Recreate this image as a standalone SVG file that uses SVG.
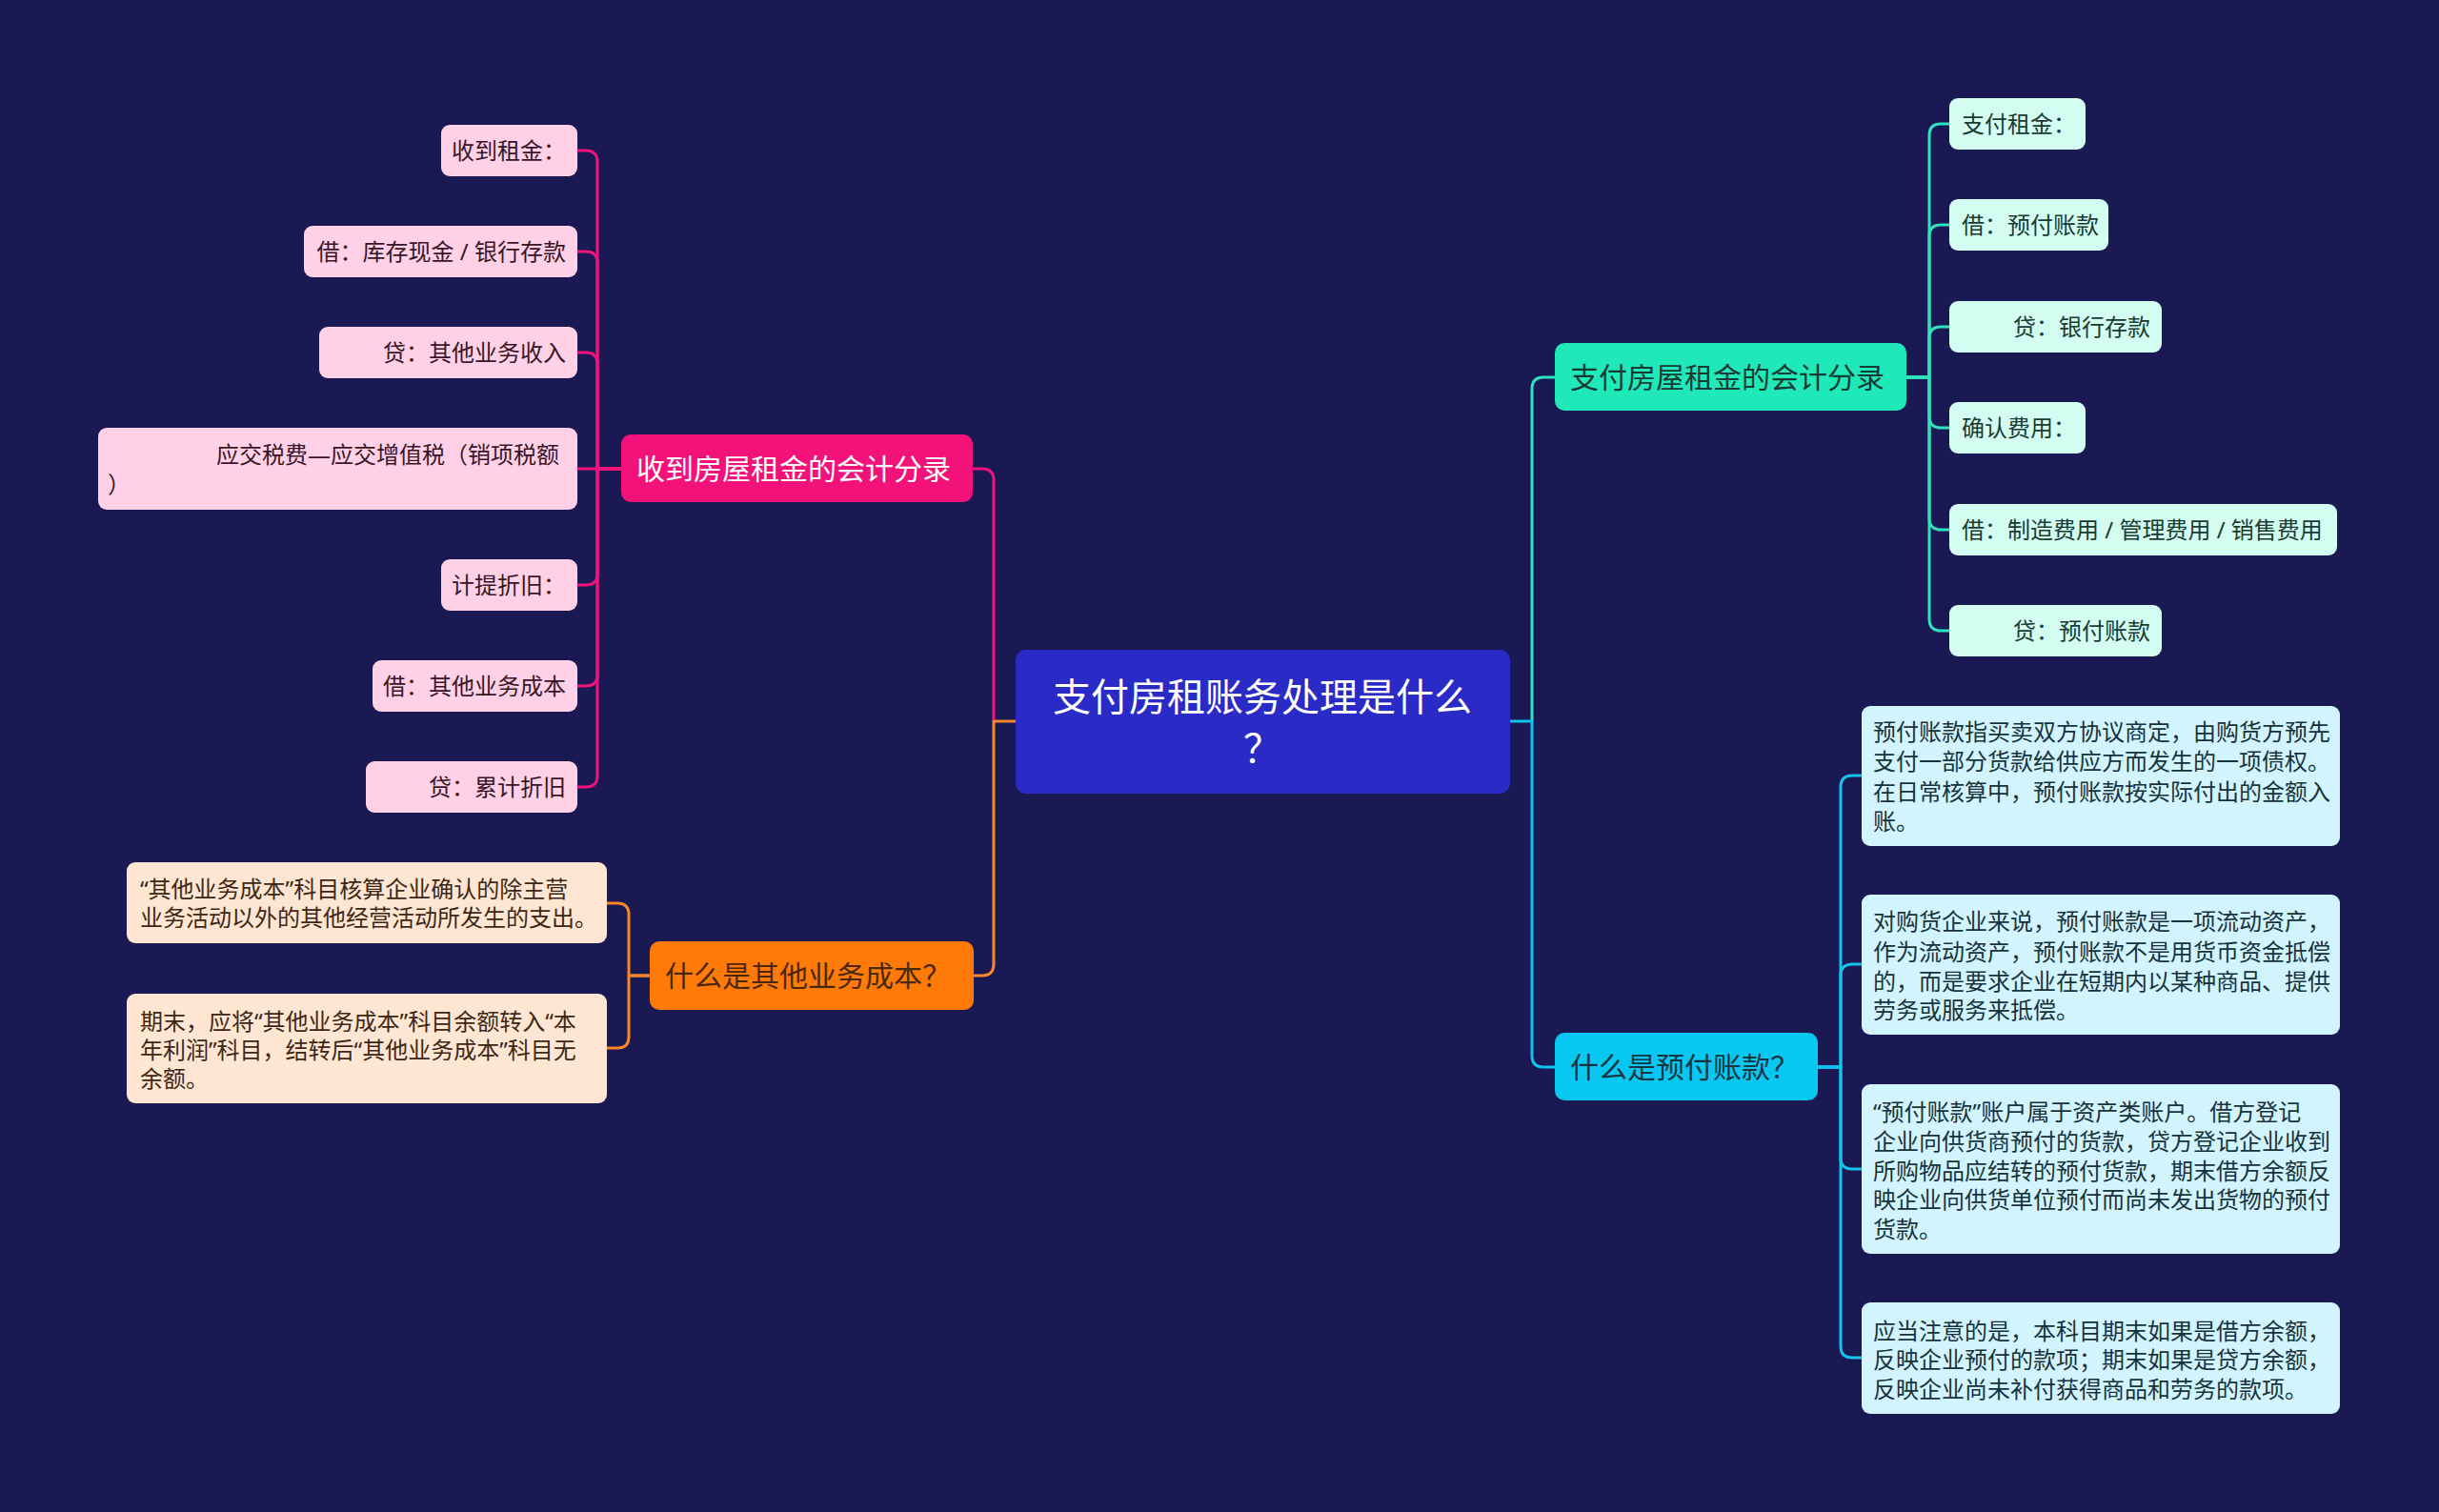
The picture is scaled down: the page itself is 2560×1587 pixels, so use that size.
<svg xmlns="http://www.w3.org/2000/svg" width="2560" height="1587" viewBox="0 0 2560 1587">
<style>
text{font-family:"Noto Sans","Noto Sans CJK SC",sans-serif;}
.c{fill:none;stroke-width:3;stroke-linecap:round;stroke-linejoin:round}
.pk{stroke:#f0137a}.or{stroke:#f8862a}.tl{stroke:#2ee3bd}.cy{stroke:#13c3ee}
.lf{font-size:24px}
.p{font-size:30px}
.lpk{fill:#ffd1e6}.lor{fill:#ffe6d2}.ltl{fill:#d4fdf1}.lcy{fill:#d2f4fc}
.tpk{fill:#3a1526}.tor{fill:#3d2714}.ttl{fill:#183b33}.tcy{fill:#17323d}
</style>
<rect x="0" y="0" width="2560" height="1587" fill="#1a1953"/>
<g id="connectors">
<path class="c pk" d="M1043,757 V504 Q1043,492 1031,492 H1021"/>
<path class="c or" d="M1066,757 H1043 V1012 Q1043,1024 1031,1024 H1022"/>
<path class="c tl" d="M1608,757 V408 Q1608,396 1620,396 H1632"/>
<path class="c cy" d="M1585,757 H1608 V1108 Q1608,1120 1620,1120 H1632"/>
<path class="c pk" d="M652,492 H627 V170 Q627,158 615,158 H606"/>
<path class="c pk" d="M652,492 H627 V276 Q627,264 615,264 H606"/>
<path class="c pk" d="M652,492 H627 V382 Q627,370 615,370 H606"/>
<path class="c pk" d="M652,492 H606"/>
<path class="c pk" d="M652,492 H627 V602 Q627,614 615,614 H606"/>
<path class="c pk" d="M652,492 H627 V708 Q627,720 615,720 H606"/>
<path class="c pk" d="M652,492 H627 V814 Q627,826 615,826 H606"/>
<path class="c or" d="M682,1024 H660 V960 Q660,948 648,948 H637"/>
<path class="c or" d="M682,1024 H660 V1088 Q660,1100 648,1100 H637"/>
<path class="c tl" d="M2001,396 H2025 V142 Q2025,130 2037,130 H2046"/>
<path class="c tl" d="M2001,396 H2025 V248 Q2025,236 2037,236 H2046"/>
<path class="c tl" d="M2001,396 H2025 V355 Q2025,343 2037,343 H2046"/>
<path class="c tl" d="M2001,396 H2025 V437 Q2025,449 2037,449 H2046"/>
<path class="c tl" d="M2001,396 H2025 V544 Q2025,556 2037,556 H2046"/>
<path class="c tl" d="M2001,396 H2025 V650 Q2025,662 2037,662 H2046"/>
<path class="c cy" d="M1908,1120 H1932 V826 Q1932,814 1944,814 H1954"/>
<path class="c cy" d="M1908,1120 H1932 V1024 Q1932,1012 1944,1012 H1954"/>
<path class="c cy" d="M1908,1120 H1932 V1215 Q1932,1227 1944,1227 H1954"/>
<path class="c cy" d="M1908,1120 H1932 V1413 Q1932,1425 1944,1425 H1954"/>
</g>
<g id="root">
<rect x="1066" y="682" width="519" height="151" rx="11" fill="#2a2ac6"/>
<text x="1325" y="746" font-size="40" fill="#ffffff" text-anchor="middle">支付房租账务处理是什么</text>
<text x="1325" y="800" font-size="40" fill="#ffffff" text-anchor="middle">？</text>
</g>
<g id="b-receive">
<rect x="652" y="456" width="369" height="71" rx="10" fill="#f2127a"/>
<text class="p" x="668" y="503" fill="#ffffff">收到房屋租金的会计分录</text>
</g>
<g id="b-othercost">
<rect x="682" y="988" width="340" height="72" rx="10" fill="#ff7a06"/>
<text class="p" x="698" y="1035" fill="#4a2810">什么是其他业务成本？</text>
</g>
<g id="b-pay">
<rect x="1632" y="360" width="369" height="71" rx="10" fill="#1fe9b8"/>
<text class="p" x="1648" y="407" fill="#173b33">支付房屋租金的会计分录</text>
</g>
<g id="b-prepaid">
<rect x="1632" y="1084" width="276" height="71" rx="10" fill="#08c7f0"/>
<text class="p" x="1648" y="1131" fill="#17353f">什么是预付账款？</text>
</g>
<g id="l1">
<rect class="lpk" x="463" y="131" width="143" height="54" rx="9"/>
<text class="lf tpk" x="594" y="167" text-anchor="end">收到租金：</text>
</g>
<g id="l2">
<rect class="lpk" x="319" y="237" width="287" height="54" rx="9"/>
<text class="lf tpk" x="594" y="273" text-anchor="end">借：库存现金 / 银行存款</text>
</g>
<g id="l3">
<rect class="lpk" x="335" y="343" width="271" height="54" rx="9"/>
<text class="lf tpk" x="594" y="379" text-anchor="end">贷：其他业务收入</text>
</g>
<g id="l4">
<rect class="lpk" x="103" y="449" width="503" height="86" rx="9"/>
<text class="lf tpk" x="227" y="486">应交税费—应交增值税（销项税额</text>
<text class="lf tpk" x="113" y="517">）</text>
</g>
<g id="l5">
<rect class="lpk" x="463" y="587" width="143" height="54" rx="9"/>
<text class="lf tpk" x="594" y="623" text-anchor="end">计提折旧：</text>
</g>
<g id="l6">
<rect class="lpk" x="391" y="693" width="215" height="54" rx="9"/>
<text class="lf tpk" x="594" y="729" text-anchor="end">借：其他业务成本</text>
</g>
<g id="l7">
<rect class="lpk" x="384" y="799" width="222" height="54" rx="9"/>
<text class="lf tpk" x="594" y="835" text-anchor="end">贷：累计折旧</text>
</g>
<g id="o1">
<rect class="lor" x="133" y="905" width="504" height="85" rx="9"/>
<text class="lf tor" x="147" y="942">“其他业务成本”科目核算企业确认的除主营</text>
<text class="lf tor" x="147" y="972">业务活动以外的其他经营活动所发生的支出。</text>
</g>
<g id="o2">
<rect class="lor" x="133" y="1043" width="504" height="115" rx="9"/>
<text class="lf tor" x="147" y="1081">期末，应将“其他业务成本”科目余额转入“本</text>
<text class="lf tor" x="147" y="1111">年利润”科目，结转后“其他业务成本”科目无</text>
<text class="lf tor" x="147" y="1141">余额。</text>
</g>
<g id="t1">
<rect class="ltl" x="2046" y="103" width="143" height="54" rx="9"/>
<text class="lf ttl" x="2059" y="139">支付租金：</text>
</g>
<g id="t2">
<rect class="ltl" x="2046" y="209" width="167" height="54" rx="9"/>
<text class="lf ttl" x="2059" y="245">借：预付账款</text>
</g>
<g id="t3">
<rect class="ltl" x="2046" y="316" width="223" height="54" rx="9"/>
<text class="lf ttl" x="2257" y="352" text-anchor="end">贷：银行存款</text>
</g>
<g id="t4">
<rect class="ltl" x="2046" y="422" width="143" height="54" rx="9"/>
<text class="lf ttl" x="2059" y="458">确认费用：</text>
</g>
<g id="t5">
<rect class="ltl" x="2046" y="529" width="407" height="54" rx="9"/>
<text class="lf ttl" x="2059" y="565">借：制造费用 / 管理费用 / 销售费用</text>
</g>
<g id="t6">
<rect class="ltl" x="2046" y="635" width="223" height="54" rx="9"/>
<text class="lf ttl" x="2257" y="671" text-anchor="end">贷：预付账款</text>
</g>
<g id="c1">
<rect class="lcy" x="1954" y="741" width="502" height="147" rx="9"/>
<text class="lf tcy" x="1966" y="777">预付账款指买卖双方协议商定，由购货方预先</text>
<text class="lf tcy" x="1966" y="808">支付一部分货款给供应方而发生的一项债权。</text>
<text class="lf tcy" x="1966" y="840">在日常核算中，预付账款按实际付出的金额入</text>
<text class="lf tcy" x="1966" y="871">账。</text>
</g>
<g id="c2">
<rect class="lcy" x="1954" y="939" width="502" height="147" rx="9"/>
<text class="lf tcy" x="1966" y="976">对购货企业来说，预付账款是一项流动资产，</text>
<text class="lf tcy" x="1966" y="1008">作为流动资产，预付账款不是用货币资金抵偿</text>
<text class="lf tcy" x="1966" y="1039">的，而是要求企业在短期内以某种商品、提供</text>
<text class="lf tcy" x="1966" y="1069">劳务或服务来抵偿。</text>
</g>
<g id="c3">
<rect class="lcy" x="1954" y="1138" width="502" height="178" rx="9"/>
<text class="lf tcy" x="1966" y="1176">“预付账款”账户属于资产类账户。借方登记</text>
<text class="lf tcy" x="1966" y="1207">企业向供货商预付的货款，贷方登记企业收到</text>
<text class="lf tcy" x="1966" y="1238">所购物品应结转的预付货款，期末借方余额反</text>
<text class="lf tcy" x="1966" y="1268">映企业向供货单位预付而尚未发出货物的预付</text>
<text class="lf tcy" x="1966" y="1299">货款。</text>
</g>
<g id="c4">
<rect class="lcy" x="1954" y="1367" width="502" height="117" rx="9"/>
<text class="lf tcy" x="1966" y="1406">应当注意的是，本科目期末如果是借方余额，</text>
<text class="lf tcy" x="1966" y="1436">反映企业预付的款项；期末如果是贷方余额，</text>
<text class="lf tcy" x="1966" y="1467">反映企业尚未补付获得商品和劳务的款项。</text>
</g>
</svg>
